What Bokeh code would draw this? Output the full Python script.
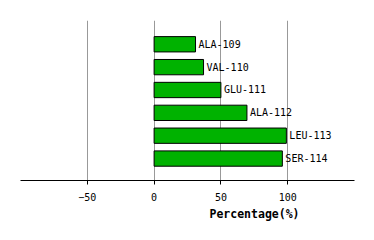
from bokeh.plotting import figure
from bokeh.models import Range1d, Title, FixedTicker, ColumnDataSource
from bokeh.core.properties import value
from bokeh.embed import file_html
from bokeh.resources import INLINE

residues = ["ALA-109", "VAL-110", "GLU-111", "ALA-112", "LEU-113", "SER-114"]
percentages = [31, 37, 50, 69.5, 99, 96]
x_ticks = [-50, 0, 50, 100]
x_title = "Percentage(%)"

pos = list(range(len(residues)))
src = ColumnDataSource(dict(y=pos, right=percentages, name=residues))

p = figure(width=374, height=240, output_backend="svg", toolbar_location=None,
           x_range=Range1d(-100, 150), y_range=Range1d(5.96, -1.04),
           min_border_left=20, min_border_right=20, min_border_top=20, min_border_bottom=60)
p.outline_line_color = None
p.background_fill_color = "white"
p.border_fill_color = "white"

p.hbar(y="y", left=0, right="right", height=0.67, source=src,
       fill_color="#00b200", line_color="black", line_width=1)
p.text(x="right", y="y", text="name", source=src, x_offset=3,
       text_font=value("DejaVu Sans Mono"), text_font_size="10px",
       text_baseline="middle", text_align="left", text_color="black")

p.yaxis.visible = False
p.ygrid.visible = False
p.xgrid.ticker = FixedTicker(ticks=x_ticks)
p.xgrid.grid_line_color = "#999999"
p.xgrid.grid_line_width = 1

xa = p.xaxis[0]
xa.ticker = FixedTicker(ticks=x_ticks)
xa.axis_line_color = "black"
xa.major_tick_line_color = "black"
xa.major_tick_out = 4
xa.major_tick_in = 0
xa.minor_tick_line_color = None
xa.major_label_text_font = "DejaVu Sans Mono"
xa.major_label_text_font_size = "10px"
xa.major_label_text_color = "black"
xa.major_label_standoff = 8

t = Title(text=x_title, align="left", offset=189, standoff=2,
          text_font="DejaVu Sans Mono", text_font_size="11.5px",
          text_font_style="bold", text_color="black")
p.add_layout(t, "below")

open("out.html", "w").write(file_html(p, INLINE))
